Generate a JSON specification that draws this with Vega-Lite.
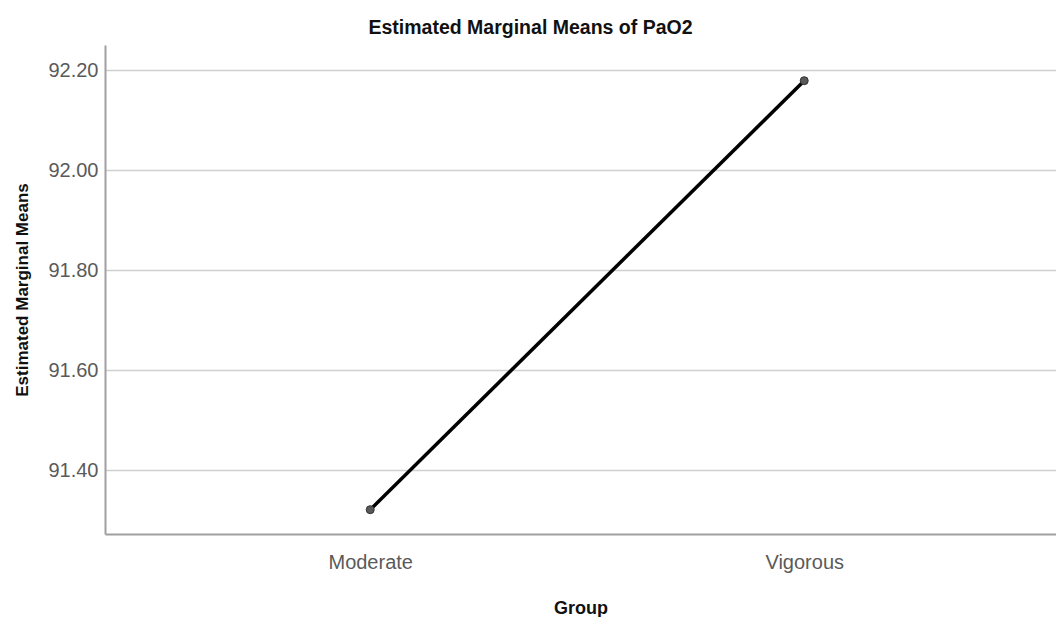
{
  "$schema": "https://vega.github.io/schema/vega-lite/v6.json",
  "width": 951,
  "height": 489,
  "autosize": {"type": "none"},
  "padding": {"left": 105, "top": 45, "right": 0, "bottom": 83},
  "background": "white",
  "title": {
    "text": "Estimated Marginal Means of PaO2",
    "font": "Liberation Sans",
    "fontSize": 19.5,
    "fontWeight": "bold",
    "color": "#111111",
    "anchor": "middle",
    "dx": -50,
    "offset": 7
  },
  "data": {
    "values": [
      {"Group": "Moderate", "mean": 91.3206},
      {"Group": "Vigorous", "mean": 92.1786}
    ]
  },
  "encoding": {
    "x": {
      "field": "Group",
      "type": "nominal",
      "sort": null,
      "scale": {"type": "point", "padding": 0.5956, "align": 0.513},
      "axis": {
        "title": "Group",
        "titleFont": "Liberation Sans",
        "titleFontSize": 18,
        "titleFontWeight": "bold",
        "titleColor": "#111111",
        "titlePadding": 27,
        "labelAngle": 0,
        "labelFont": "Liberation Sans",
        "labelFontSize": 20,
        "labelColor": "#5a5a5a",
        "labelPadding": 18,
        "ticks": false,
        "grid": false,
        "domainColor": "#a0a0a0",
        "domainWidth": 2
      }
    },
    "y": {
      "field": "mean",
      "type": "quantitative",
      "scale": {"domain": [91.272, 92.25], "zero": false, "nice": false},
      "axis": {
        "title": "Estimated Marginal Means",
        "titleFont": "Liberation Sans",
        "titleFontSize": 17,
        "titleFontWeight": "bold",
        "titleColor": "#111111",
        "titlePadding": 16,
        "values": [91.4, 91.6, 91.8, 92.0, 92.2],
        "format": ".2f",
        "labelFont": "Liberation Sans",
        "labelFontSize": 20,
        "labelColor": "#5a5a5a",
        "labelPadding": 7,
        "ticks": false,
        "grid": true,
        "gridColor": "#d0d0d0",
        "gridWidth": 1.5,
        "domainColor": "#a0a0a0",
        "domainWidth": 2
      }
    }
  },
  "layer": [
    {"mark": {"type": "line", "color": "#000000", "strokeWidth": 3.5}},
    {"mark": {"type": "point", "filled": true, "fill": "#595959", "stroke": "#333333", "strokeWidth": 1, "size": 64, "opacity": 1}}
  ],
  "config": {"view": {"stroke": null}}
}
